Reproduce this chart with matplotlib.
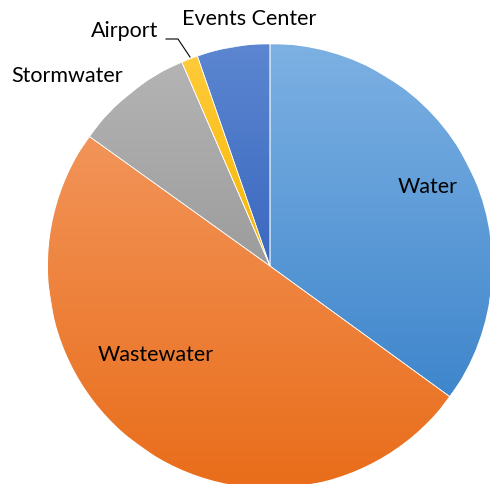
import matplotlib.pyplot as plt
import numpy as np
from matplotlib.colors import LinearSegmentedColormap

# Budget share by fund
funds = ['Water', 'Wastewater', 'Stormwater', 'Airport', 'Events Center']
shares = [35.0, 49.9, 8.6, 1.2, 5.3]

# light (top) / dark (bottom) gradient stops for each slice
tops = ['#7DB1E3', '#F29459', '#B4B4B4', '#FFCB3A', '#5C86D0']
bottoms = ['#3F86CC', '#E96D1A', '#9C9C9C', '#F7B500', '#3A68C0']

plt.rcParams['font.family'] = ['Lato', 'DejaVu Sans']

fig = plt.figure(figsize=(4.9, 4.84), dpi=100)
ax = fig.add_axes([0, 0, 1, 1])

cx, cy, r = 270, 218, 222
wedges, _ = ax.pie(shares, startangle=90, counterclock=False,
                   center=(cx, cy), radius=r, frame=True,
                   wedgeprops=dict(edgecolor='white', linewidth=0.5))
ax.set_xlim(0, 490)
ax.set_ylim(0, 484)
ax.set_aspect('equal')
ax.axis('off')

grad = np.linspace(0, 1, 256).reshape(-1, 1)
for w, c0, c1 in zip(wedges, tops, bottoms):
    cmap = LinearSegmentedColormap.from_list('g', [c1, c0])
    w.set_facecolor(c1)
    bb = w.get_path().get_extents(w.get_patch_transform())
    im = ax.imshow(grad, cmap=cmap, aspect='auto', origin='lower',
                   extent=(bb.x0, bb.x1, bb.y0, bb.y1), zorder=1.5)
    im.set_clip_path(w)
    w.set_zorder(1)
    # redraw edge on top of the gradient
    ax.add_patch(plt.Polygon(w.get_path().transformed(w.get_patch_transform()).vertices,
                             closed=True, fill=False, edgecolor='white',
                             linewidth=0.5, zorder=2))

fs = 15.5
ax.text(428, 484 - 187, 'Water', ha='center', va='center', fontsize=fs)
ax.text(156, 484 - 355, 'Wastewater', ha='center', va='center', fontsize=fs)
ax.text(67, 484 - 76, 'Stormwater', ha='center', va='center', fontsize=fs)
ax.text(125, 484 - 31, 'Airport', ha='center', va='center', fontsize=fs)
ax.text(249, 484 - 19, 'Events Center', ha='center', va='center', fontsize=fs)

# leader line for the small Airport slice
ax.plot([166, 178, 190], [484 - 39, 484 - 39, 484 - 57], color='black', linewidth=0.8, zorder=3)

fig.savefig('out.png', dpi=100)
